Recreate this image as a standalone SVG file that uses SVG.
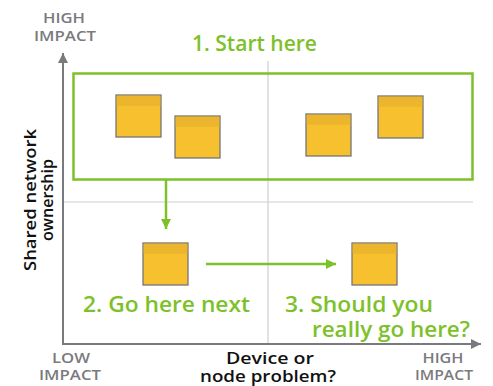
<svg xmlns="http://www.w3.org/2000/svg" width="493" height="386" viewBox="0 0 493 386">
<defs>
<style>
.axis{stroke:#7a7a7e;stroke-width:2;fill:none}
.div{stroke:#cfcfcf;stroke-width:1.2;fill:none}
.grn{stroke:#7dc12a;fill:none}
.note{fill:#f6c02e;stroke:#767676;stroke-width:1.3}
.band{fill:#ebb52d}
.gt{font-family:"Open Sans",Lato,sans-serif;font-weight:600;fill:#7dc12a;font-size:21px}
.lbl{font-family:"Open Sans",Lato,sans-serif;font-weight:600;fill:#111;font-size:17px;text-anchor:middle}
.imp{font-family:"Open Sans",Lato,sans-serif;font-weight:600;fill:#7a7a7e;font-size:14px;text-anchor:middle}
</style>
<marker id="ag" viewBox="0 0 10 10" refX="10" refY="5" markerWidth="10" markerHeight="10" markerUnits="userSpaceOnUse" orient="auto"><path d="M0,0L10,5L0,10z" fill="#7dc12a"/></marker>
<marker id="ax" viewBox="0 0 10 10" refX="10" refY="5" markerWidth="10" markerHeight="11" markerUnits="userSpaceOnUse" orient="auto"><path d="M0,0L10,5L0,10z" fill="#7a7a7e"/></marker>
<symbol id="sticky" viewBox="0 0 45 42" overflow="visible">
<rect class="note" x="0" y="0" width="45" height="42"/>
<rect class="band" x="0.7" y="0.7" width="43.6" height="10"/>
</symbol>
</defs>
<rect width="493" height="386" fill="#fff"/>
<g id="grid">
<line class="div" x1="268" y1="61" x2="268" y2="344"/>
<line class="div" x1="63" y1="202" x2="473" y2="202"/>
</g>
<g id="axes">
<line class="axis" x1="63" y1="345" x2="63" y2="53" marker-end="url(#ax)"/>
<line class="axis" x1="62" y1="344" x2="481" y2="344" marker-end="url(#ax)"/>
</g>
<g id="start-box">
<rect class="grn" x="73.5" y="73.5" width="399" height="106" stroke-width="2.5"/>
</g>
<g id="note1"><use href="#sticky" x="116" y="95" width="45" height="42"/></g>
<g id="note2"><use href="#sticky" x="175" y="116" width="45" height="42"/></g>
<g id="note3"><use href="#sticky" x="306" y="114" width="45" height="42"/></g>
<g id="note4"><use href="#sticky" x="378" y="96" width="45" height="42"/></g>
<g id="note5"><use href="#sticky" x="143" y="243" width="45" height="42"/></g>
<g id="note6"><use href="#sticky" x="352" y="243" width="45" height="42"/></g>
<g id="connectors">
<line class="grn" stroke-width="2.5" x1="166" y1="180" x2="166" y2="229" marker-end="url(#ag)"/>
<line class="grn" stroke-width="2.5" x1="206" y1="264" x2="336" y2="264" marker-end="url(#ag)"/>
</g>
<g id="labels">
<text class="imp" x="64" y="23" textLength="42" lengthAdjust="spacingAndGlyphs">HIGH</text>
<text class="imp" x="65" y="41" textLength="62" lengthAdjust="spacingAndGlyphs">IMPACT</text>
<text class="gt" x="192" y="51" textLength="125" lengthAdjust="spacingAndGlyphs">1. Start here</text>
<text class="lbl" transform="translate(36,200) rotate(-90)" textLength="142" lengthAdjust="spacingAndGlyphs">Shared network</text>
<text class="lbl" transform="translate(53,200) rotate(-90)" textLength="82" lengthAdjust="spacingAndGlyphs">ownership</text>
<text class="gt" x="83" y="312" textLength="167" lengthAdjust="spacingAndGlyphs">2. Go here next</text>
<text class="gt" x="285" y="312" textLength="148" lengthAdjust="spacingAndGlyphs">3. Should you</text>
<text class="gt" x="312" y="337" textLength="158" lengthAdjust="spacingAndGlyphs">really go here?</text>
<text class="imp" x="71" y="363" textLength="38" lengthAdjust="spacingAndGlyphs">LOW</text>
<text class="imp" x="70" y="380" textLength="62" lengthAdjust="spacingAndGlyphs">IMPACT</text>
<text class="lbl" x="270" y="364" textLength="88" lengthAdjust="spacingAndGlyphs">Device or</text>
<text class="lbl" x="268" y="382" textLength="136" lengthAdjust="spacingAndGlyphs">node problem?</text>
<text class="imp" x="443" y="363" textLength="41" lengthAdjust="spacingAndGlyphs">HIGH</text>
<text class="imp" x="444" y="380" textLength="58" lengthAdjust="spacingAndGlyphs">IMPACT</text>
</g>
</svg>
